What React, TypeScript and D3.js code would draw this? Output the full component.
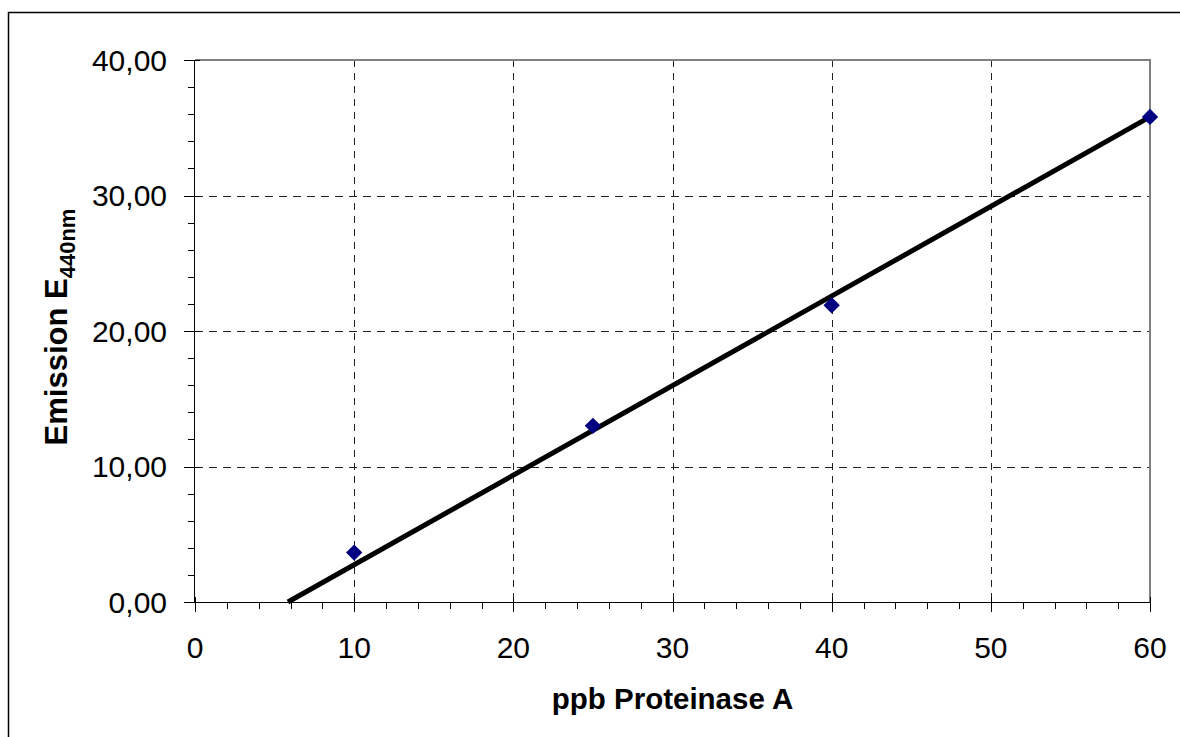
import React from "react";
import * as d3 from "d3";

// Measured samples: concentration (ppb) vs. emission at 440 nm
const concentrations = [10, 25, 40, 60];
const emissions = [3.65, 13.0, 21.9, 35.8];

// Linear trend line coefficients (emission = slope * ppb + intercept)
const trendSlope = [0.661];
const trendIntercept = [-3.86];

const xMajorTicks = [0, 10, 20, 30, 40, 50, 60];
const yMajorTicks = [0, 10, 20, 30, 40];

const xTitle = "ppb Proteinase A";
const yTitleMain = "Emission E";
const yTitleSub = "440nm";

const W = 1180;
const H = 737;
const plot = { left: 195, top: 60, right: 1150, bottom: 602 };
const FONT = "'Liberation Sans', Arial, sans-serif";

export default function App() {
  const x = d3.scaleLinear().domain([0, 60]).range([plot.left, plot.right]);
  const y = d3.scaleLinear().domain([0, 40]).range([plot.bottom, plot.top]);

  const xMinor = d3.range(0, 60.001, 2).filter((v) => v % 10 !== 0);
  const yMinor = d3.range(0, 40.001, 2).filter((v) => v % 10 !== 0);

  const fmtY = (v: number) => d3.format(".2f")(v).replace(".", ",");

  // Trend line spans from where it crosses 0 up to the right end of the axis
  const m = trendSlope[0];
  const b = trendIntercept[0];
  const xStart = Math.max(0, -b / m);
  const trendPts: [number, number][] = [
    [xStart, m * xStart + b],
    [60, m * 60 + b],
  ];
  const line = d3
    .line<[number, number]>()
    .x((d) => x(d[0]))
    .y((d) => y(d[1]));

  const diamond = d3.symbol().type(d3.symbolDiamond2).size(170)();

  return (
    <svg
      width={W}
      height={H}
      style={{ position: "absolute", left: 0, top: 0, background: "#fff" }}
      fontFamily={FONT}
    >
      {/* chart frame */}
      <rect x={8.5} y={12.5} width={1200} height={800} fill="none" stroke="#000" strokeWidth={1.5} />

      {/* gridlines */}
      {xMajorTicks
        .filter((v) => v !== 0 && v !== 60)
        .map((v) => (
          <line
            key={"gx" + v}
            x1={Math.round(x(v)) + 0.5}
            x2={Math.round(x(v)) + 0.5}
            y1={plot.top}
            y2={plot.bottom}
            stroke="#222"
            strokeDasharray="7,6"
          />
        ))}
      {yMajorTicks
        .filter((v) => v !== 0 && v !== 40)
        .map((v) => (
          <line
            key={"gy" + v}
            x1={plot.left}
            x2={plot.right}
            y1={Math.round(y(v)) + 0.5}
            y2={Math.round(y(v)) + 0.5}
            stroke="#222"
            strokeDasharray="8,6"
          />
        ))}

      {/* plot area border (top/right) */}
      <path
        d={`M${plot.left},${plot.top} H${plot.right} V${plot.bottom}`}
        fill="none"
        stroke="#808080"
        strokeWidth={2}
      />

      {/* axes */}
      <line x1={plot.left - 0.5} x2={plot.left - 0.5} y1={plot.top} y2={plot.bottom} stroke="#000" />
      <line x1={plot.left} x2={plot.right} y1={plot.bottom + 0.5} y2={plot.bottom + 0.5} stroke="#000" />

      {/* y ticks */}
      {yMajorTicks.map((v) => (
        <g key={"yt" + v}>
          <line
            x1={plot.left - 11}
            x2={plot.left + 5}
            y1={Math.round(y(v)) + 0.5}
            y2={Math.round(y(v)) + 0.5}
            stroke="#000"
          />
          <text
            x={plot.left - 28}
            y={y(v)}
            dy="0.36em"
            textAnchor="end"
            fontSize={30}
            fill="#000"
          >
            {fmtY(v)}
          </text>
        </g>
      ))}
      {yMinor.map((v) => (
        <line
          key={"ym" + v}
          x1={plot.left - 7}
          x2={plot.left}
          y1={Math.round(y(v)) + 0.5}
          y2={Math.round(y(v)) + 0.5}
          stroke="#000"
        />
      ))}

      {/* x ticks */}
      {xMajorTicks.map((v) => (
        <g key={"xt" + v}>
          <line
            x1={Math.round(x(v)) + 0.5}
            x2={Math.round(x(v)) + 0.5}
            y1={plot.bottom - 5}
            y2={plot.bottom + 10}
            stroke="#000"
          />
          <text x={x(v)} y={658} textAnchor="middle" fontSize={30} fill="#000">
            {v}
          </text>
        </g>
      ))}
      {xMinor.map((v) => (
        <line
          key={"xm" + v}
          x1={Math.round(x(v)) + 0.5}
          x2={Math.round(x(v)) + 0.5}
          y1={plot.bottom}
          y2={plot.bottom + 7}
          stroke="#000"
        />
      ))}

      {/* trend line */}
      <path d={line(trendPts) ?? ""} fill="none" stroke="#000" strokeWidth={5} />

      {/* data points */}
      {concentrations.map((c, i) => (
        <path
          key={"p" + i}
          d={diamond ?? ""}
          transform={`translate(${x(c)},${y(emissions[i])})`}
          fill="#000080"
        />
      ))}

      {/* axis titles */}
      <text
        x={(plot.left + plot.right) / 2}
        y={709}
        textAnchor="middle"
        fontSize={29.5}
        fontWeight="bold"
        fill="#000"
      >
        {xTitle}
      </text>
      <text
        transform={`translate(67,${(plot.top + plot.bottom) / 2 - 4}) rotate(-90)`}
        textAnchor="middle"
        fontSize={31}
        fontWeight="bold"
        fill="#000"
      >
        {yTitleMain}
        <tspan fontSize={22} dy={8}>
          {yTitleSub}
        </tspan>
      </text>
    </svg>
  );
}
